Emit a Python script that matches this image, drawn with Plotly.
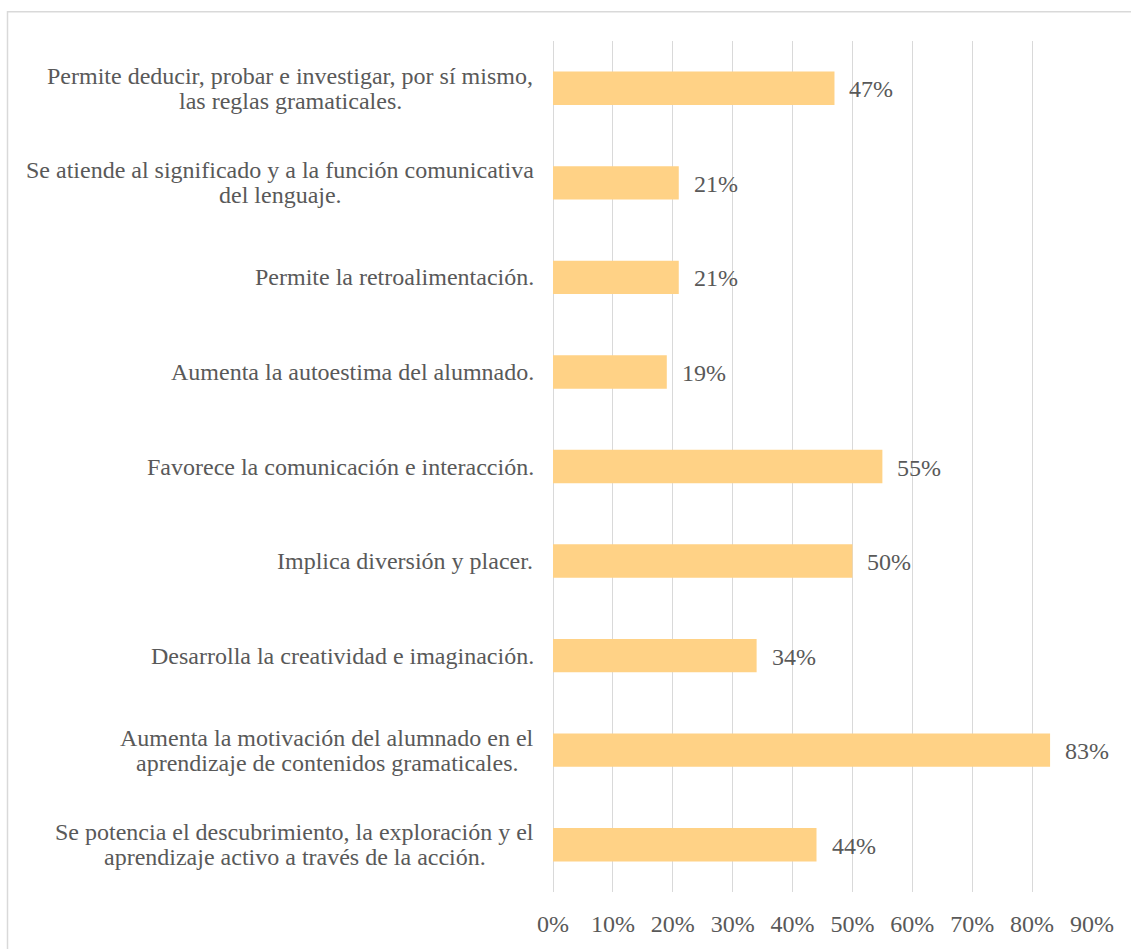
import plotly.graph_objects as go

# Statements, listed top to bottom as they appear on the chart
categories = [
    "Permite deducir, probar e investigar, por sí mismo,<br>las reglas gramaticales.",
    "Se atiende al significado y a la función comunicativa<br>del lenguaje.",
    "Permite la retroalimentación.",
    "Aumenta la autoestima del alumnado.",
    "Favorece la comunicación e interacción.",
    "Implica diversión y placer.",
    "Desarrolla la creatividad e imaginación.",
    "Aumenta la motivación del alumnado en el<br>aprendizaje de contenidos gramaticales.",
    "Se potencia el descubrimiento, la exploración y el<br>aprendizaje activo a través de la acción.",
]
percentages = [47, 21, 21, 19, 55, 50, 34, 83, 44]
tick_values = [0, 10, 20, 30, 40, 50, 60, 70, 80, 90]
tick_labels = [f"{v}%" for v in tick_values]

# Plotly stacks categories bottom-up, so reverse for display
cats_plot = categories[::-1]
vals_plot = percentages[::-1]

FONT = "Liberation Serif, Times New Roman, serif"
TEXT_COLOR = "#595959"
FS = 24
LINE_STEP = 25  # px between wrapped lines of a category label
LABEL_GAP = 19  # px between label block and plot area
W, H = 1131, 949
ML, MR, MT, MB = 553, 39, 41, 51

# Times-metric advance widths (per 1000 em) used to centre wrapped lines
_ADV = {
    " ": 250, ",": 250, ".": 250,
    "a": 444, "b": 500, "c": 444, "d": 500, "e": 444, "f": 333, "g": 500,
    "h": 500, "i": 278, "j": 278, "k": 500, "l": 278, "m": 778, "n": 500,
    "o": 500, "p": 500, "q": 500, "r": 333, "s": 389, "t": 278, "u": 500,
    "v": 500, "w": 722, "x": 500, "y": 500, "z": 444,
    "á": 444, "é": 444, "í": 278, "ó": 500, "ú": 500, "ñ": 500,
    "A": 722, "D": 722, "F": 556, "I": 333, "P": 556, "S": 556,
}


def text_width(s, size):
    return sum(_ADV.get(ch, 500) for ch in s) * size / 1000.0


fig = go.Figure(
    go.Bar(
        x=vals_plot,
        y=cats_plot,
        orientation="h",
        marker=dict(color="#FFD286", line=dict(width=0)),
        width=0.353,
        hoverinfo="skip",
    )
)

# Value labels just right of each bar end
for c, v in zip(cats_plot, vals_plot):
    fig.add_annotation(
        x=v, y=c, text=f"{v}%", showarrow=False,
        xanchor="left", yanchor="middle", xshift=13, yshift=-1,
        font=dict(family=FONT, size=FS, color=TEXT_COLOR),
    )

# Category labels: block right-aligned to the plot, wrapped lines centred
for c in cats_plot:
    lines = c.split("<br>")
    n = len(lines)
    block_w = max(text_width(s, FS) for s in lines)
    for i, line in enumerate(lines):
        fig.add_annotation(
            x=0, xref="paper", y=c, yref="y", text=line, showarrow=False,
            xanchor="center", yanchor="middle",
            xshift=-LABEL_GAP - block_w / 2,
            yshift=((n - 1) / 2 - i) * LINE_STEP,
            font=dict(family=FONT, size=FS, color=TEXT_COLOR),
        )

# Light frame around the whole chart (open at right/bottom edge)
pw = W - ML - MR
ph = H - MT - MB
fig.add_shape(
    type="rect", xref="paper", yref="paper",
    x0=(7.5 - ML) / pw, x1=(W + 10 - ML) / pw,
    y0=-(H + 10 - (H - MB)) / ph, y1=1 + (MT - 11.5) / ph,
    line=dict(color="#D9D9D9", width=1.5), fillcolor="rgba(0,0,0,0)",
    layer="below",
)

fig.update_layout(
    width=W, height=H,
    margin=dict(l=ML, r=MR, t=MT, b=MB),
    paper_bgcolor="white", plot_bgcolor="white",
    font=dict(family=FONT, size=FS, color=TEXT_COLOR),
    showlegend=False,
    xaxis=dict(
        range=[0, 90], tickvals=tick_values, ticktext=tick_labels,
        showgrid=True, gridcolor="#D9D9D9", gridwidth=1,
        zeroline=True, zerolinecolor="#D9D9D9", zerolinewidth=1,
        showline=False, ticks="", ticklabelstandoff=15,
        tickfont=dict(family=FONT, size=FS, color=TEXT_COLOR),
    ),
    yaxis=dict(
        categoryorder="array", categoryarray=cats_plot,
        showgrid=False, zeroline=False, showline=False, ticks="",
        showticklabels=False,
    ),
)

fig.write_html("out.html")
